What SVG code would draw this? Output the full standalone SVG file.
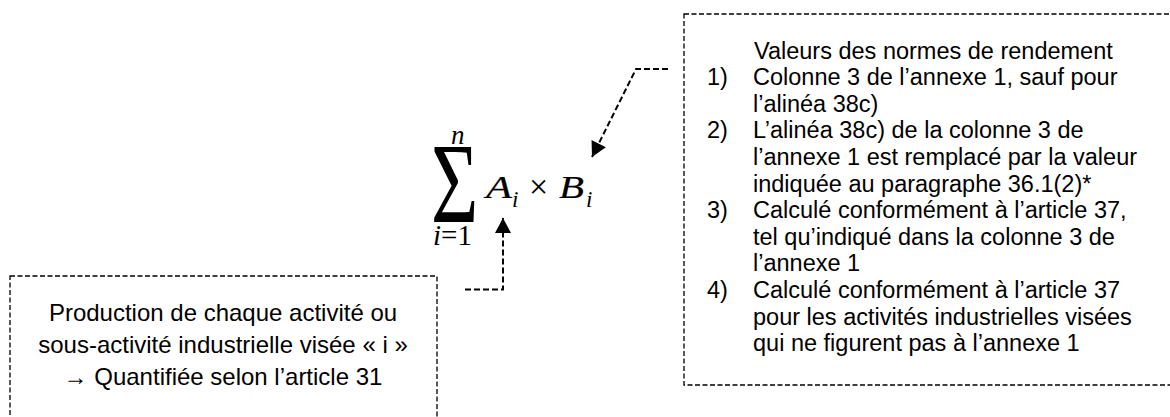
<svg xmlns="http://www.w3.org/2000/svg" width="1170" height="417" viewBox="0 0 1170 417">
<style>
.box{fill:none;stroke:#000;stroke-width:1.3;stroke-dasharray:5 2.5}
.conn{fill:none;stroke:#000;stroke-width:2;stroke-dasharray:6 3}
.t{font-family:"Liberation Sans",Arial,sans-serif;font-size:23.5px;fill:#000}
.tl{font-family:"Liberation Sans",Arial,sans-serif;font-size:24px;fill:#000;text-anchor:middle}
.m{font-family:"Liberation Serif","Times New Roman",serif;fill:#000}
.mi{font-family:"Liberation Serif","Times New Roman",serif;font-style:italic;fill:#000}
</style>
<defs>
<marker id="ah" markerUnits="userSpaceOnUse" markerWidth="16" markerHeight="16" refX="15" refY="8" orient="auto" viewBox="0 0 16 16">
<path d="M0,0 L15,8 L0,16 Z" fill="#000"/>
</marker>
</defs>
<rect width="1170" height="417" fill="#fff"/>
<g id="formula">
<text class="m" font-size="107" transform="translate(431,222) scale(0.76,1.06)">Σ</text>
<text class="mi" x="451" y="144" font-size="27">n</text>
<text class="m" x="433" y="245" font-size="29"><tspan class="mi">i</tspan>=1</text>
<text class="mi" x="486" y="198" font-size="32" textLength="26" lengthAdjust="spacingAndGlyphs" stroke="#000" stroke-width="0.2">A</text>
<text class="mi" x="512" y="207" font-size="23">i</text>
<text class="m" x="529" y="198" font-size="34">×</text>
<text class="mi" x="559" y="198" font-size="32" textLength="25" lengthAdjust="spacingAndGlyphs" stroke="#000" stroke-width="0.2">B</text>
<text class="mi" x="586" y="207" font-size="23">i</text>
</g>
<g id="node-production">
<rect class="box" x="10" y="276" width="427" height="160"/>
<text class="tl" x="223" y="321">Production de chaque activité ou</text>
<text class="tl" x="223" y="353">sous-activité industrielle visée « i »</text>
<text class="tl" x="223" y="385">→ Quantifiée selon l’article 31</text>
</g>
<g id="node-valeurs">
<rect class="box" x="684" y="14" width="490" height="371"/>
<text class="t" x="754" y="58.5">Valeurs des normes de rendement</text>
<text class="t" x="707" y="85.1">1)</text>
<text class="t" x="753" y="85.1">Colonne 3 de l’annexe 1, sauf pour</text>
<text class="t" x="753" y="111.7">l’alinéa 38c)</text>
<text class="t" x="707" y="138.3">2)</text>
<text class="t" x="753" y="138.3">L’alinéa 38c) de la colonne 3 de</text>
<text class="t" x="753" y="164.9">l’annexe 1 est remplacé par la valeur</text>
<text class="t" x="753" y="191.5">indiquée au paragraphe 36.1(2)*</text>
<text class="t" x="707" y="218.1">3)</text>
<text class="t" x="753" y="218.1">Calculé conformément à l’article 37,</text>
<text class="t" x="753" y="244.7">tel qu’indiqué dans la colonne 3 de</text>
<text class="t" x="753" y="271.3">l’annexe 1</text>
<text class="t" x="707" y="297.9">4)</text>
<text class="t" x="753" y="297.9">Calculé conformément à l’article 37</text>
<text class="t" x="753" y="324.5">pour les activités industrielles visées</text>
<text class="t" x="753" y="351.1">qui ne figurent pas à l’annexe 1</text>
</g>
<g id="connectors">
<path class="conn" d="M465,289.5 H503 V218" marker-end="url(#ah)"/>
<path class="conn" d="M668,69 H636 L592,157" marker-end="url(#ah)"/>
</g>
</svg>
